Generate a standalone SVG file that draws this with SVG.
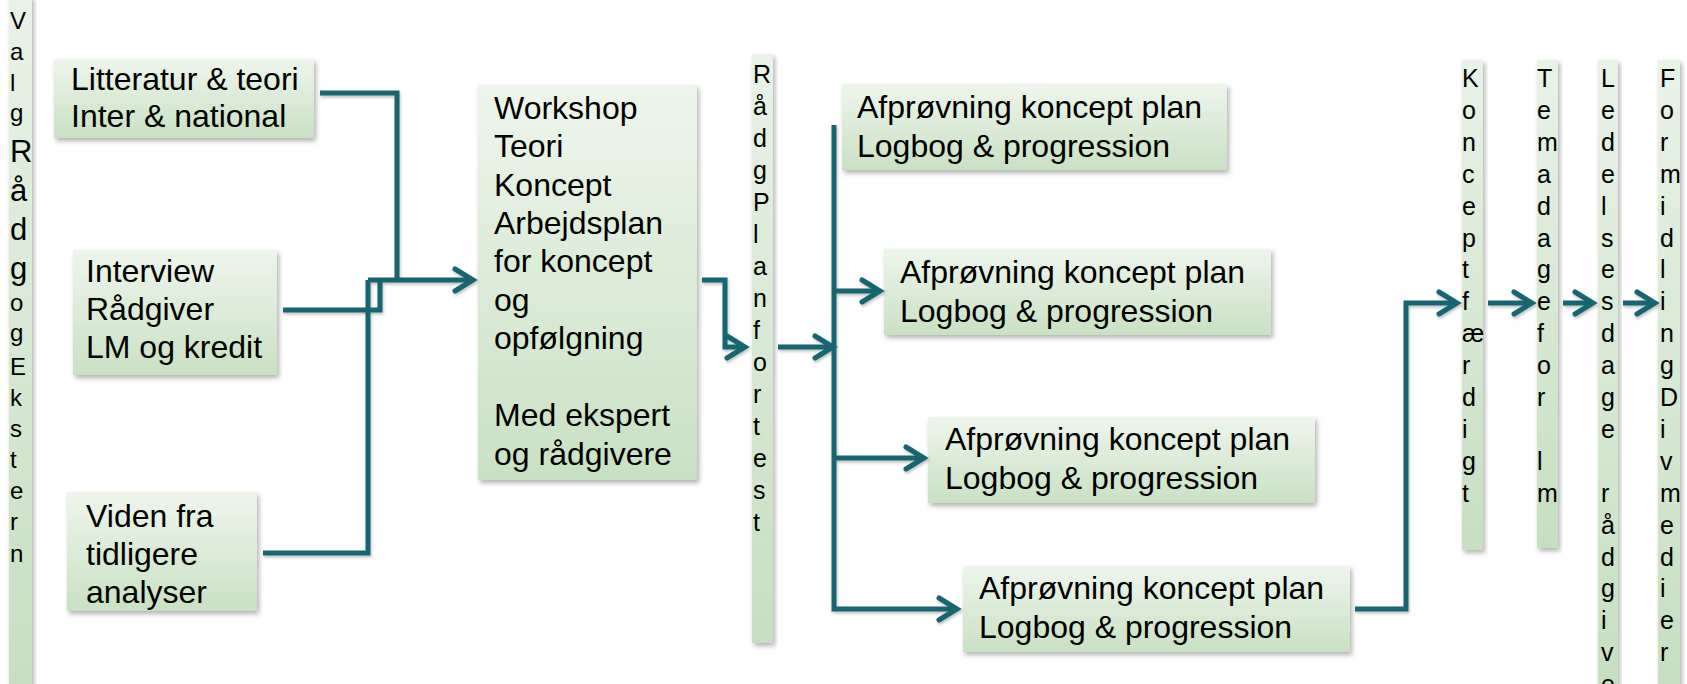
<svg xmlns="http://www.w3.org/2000/svg" width="1687" height="684" viewBox="0 0 1687 684">
<defs>
<linearGradient id="gBox" x1="0" y1="0" x2="0" y2="1">
<stop offset="0" stop-color="#eef5ec"/>
<stop offset="1" stop-color="#c9e1c3"/>
</linearGradient>
<linearGradient id="gBar" x1="0" y1="0" x2="0" y2="1">
<stop offset="0" stop-color="#e9f2e7"/>
<stop offset="1" stop-color="#c6dfc0"/>
</linearGradient>
<filter id="sh" x="-10%" y="-10%" width="130%" height="130%">
<feDropShadow dx="2" dy="3" stdDeviation="2.5" flood-color="#000" flood-opacity="0.3"/>
</filter>
<filter id="lsh" filterUnits="userSpaceOnUse" x="0" y="0" width="1687" height="684">
<feDropShadow dx="1" dy="2" stdDeviation="1.5" flood-color="#000" flood-opacity="0.25"/>
</filter>
<marker id="arr" viewBox="0 0 24 26" refX="21" refY="13" markerWidth="24" markerHeight="26" markerUnits="userSpaceOnUse" orient="auto" overflow="visible">
<path d="M3,2 L21,13 L3,24" fill="none" stroke="#176570" stroke-width="5" stroke-linecap="round" stroke-linejoin="miter"/>
</marker>
</defs>
<style>
.box{fill:url(#gBox);filter:url(#sh)}
.bar{fill:url(#gBar);filter:url(#sh)}
.t{font-family:"Liberation Sans",Arial,sans-serif;font-size:32px;fill:#000}
.v{font-family:"Liberation Sans",Arial,sans-serif;font-size:25px;fill:#000}
.vs{font-family:"Liberation Sans",Arial,sans-serif;font-size:24px;fill:#000}
.vb{font-size:31px}
.c{fill:none;stroke:#176570;stroke-width:5}
</style>
<rect width="1687" height="684" fill="#ffffff"/>

<g id="valg">
<rect class="bar" x="9" y="-4" width="23" height="692"/>
<text class="vs"><tspan x="10" y="29">V</tspan><tspan x="10" y="60">a</tspan><tspan x="10" y="91">l</tspan><tspan x="10" y="121">g</tspan><tspan class="vb" x="10" y="162">R</tspan><tspan class="vb" x="10" y="201">å</tspan><tspan class="vb" x="10" y="240">d</tspan><tspan class="vb" x="10" y="279">g</tspan><tspan x="10" y="311">o</tspan><tspan x="10" y="341">g</tspan><tspan x="10" y="375">E</tspan><tspan x="10" y="406">k</tspan><tspan x="10" y="437">s</tspan><tspan x="10" y="468">t</tspan><tspan x="10" y="499">e</tspan><tspan x="10" y="530">r</tspan><tspan x="10" y="562">n</tspan></text>
</g>

<g id="litteratur">
<rect class="box" x="54" y="59" width="260" height="79"/>
<text class="t"><tspan x="71" y="90">Litteratur &amp; teori</tspan><tspan x="71" y="127">Inter &amp; national</tspan></text>
</g>

<g id="interview">
<rect class="box" x="73" y="250" width="204" height="125"/>
<text class="t"><tspan x="86" y="282">Interview</tspan><tspan x="86" y="320">Rådgiver</tspan><tspan x="86" y="358">LM og kredit</tspan></text>
</g>

<g id="viden">
<rect class="box" x="67" y="492" width="190" height="119"/>
<text class="t"><tspan x="86" y="527">Viden fra</tspan><tspan x="86" y="565">tidligere</tspan><tspan x="86" y="603">analyser</tspan></text>
</g>

<g id="workshop">
<rect class="box" x="478" y="85" width="219" height="395"/>
<text class="t"><tspan x="494" y="119">Workshop</tspan><tspan x="494" y="157">Teori</tspan><tspan x="494" y="196">Koncept</tspan><tspan x="494" y="234">Arbejdsplan</tspan><tspan x="494" y="272">for koncept</tspan><tspan x="494" y="311">og</tspan><tspan x="494" y="349">opfølgning</tspan><tspan x="494" y="426">Med ekspert</tspan><tspan x="494" y="465">og rådgivere</tspan></text>
</g>

<g id="raadplan">
<rect class="bar" x="752" y="54" width="21" height="589"/>
<text class="v"><tspan x="753" y="83">R</tspan><tspan x="753" y="115">å</tspan><tspan x="753" y="147">d</tspan><tspan x="753" y="179">g</tspan><tspan x="753" y="211">P</tspan><tspan x="753" y="243">l</tspan><tspan x="753" y="275">a</tspan><tspan x="753" y="307">n</tspan><tspan x="753" y="339">f</tspan><tspan x="753" y="371">o</tspan><tspan x="753" y="403">r</tspan><tspan x="753" y="435">t</tspan><tspan x="753" y="467">e</tspan><tspan x="753" y="499">s</tspan><tspan x="753" y="531">t</tspan></text>
</g>

<g id="afproevning1">
<rect class="box" x="842" y="84" width="385" height="86"/>
<text class="t"><tspan x="857" y="118">Afprøvning koncept plan</tspan><tspan x="857" y="157">Logbog &amp; progression</tspan></text>
</g>
<g id="afproevning2">
<rect class="box" x="884" y="249" width="387" height="86"/>
<text class="t"><tspan x="900" y="283">Afprøvning koncept plan</tspan><tspan x="900" y="322">Logbog &amp; progression</tspan></text>
</g>
<g id="afproevning3">
<rect class="box" x="928" y="417" width="387" height="86"/>
<text class="t"><tspan x="945" y="450">Afprøvning koncept plan</tspan><tspan x="945" y="489">Logbog &amp; progression</tspan></text>
</g>
<g id="afproevning4">
<rect class="box" x="963" y="566" width="387" height="86"/>
<text class="t"><tspan x="979" y="599">Afprøvning koncept plan</tspan><tspan x="979" y="638">Logbog &amp; progression</tspan></text>
</g>

<g id="koncept">
<rect class="bar" x="1462" y="60" width="21" height="490"/>
<text class="v"><tspan x="1462" y="87">K</tspan><tspan x="1462" y="119">o</tspan><tspan x="1462" y="151">n</tspan><tspan x="1462" y="183">c</tspan><tspan x="1462" y="215">e</tspan><tspan x="1462" y="247">p</tspan><tspan x="1462" y="278">t</tspan><tspan x="1462" y="310">f</tspan><tspan x="1462" y="342">æ</tspan><tspan x="1462" y="374">r</tspan><tspan x="1462" y="406">d</tspan><tspan x="1462" y="438">i</tspan><tspan x="1462" y="470">g</tspan><tspan x="1462" y="502">t</tspan></text>
</g>

<g id="temadage">
<rect class="bar" x="1537" y="60" width="21" height="488"/>
<text class="v"><tspan x="1537" y="87">T</tspan><tspan x="1537" y="119">e</tspan><tspan x="1537" y="151">m</tspan><tspan x="1537" y="183">a</tspan><tspan x="1537" y="215">d</tspan><tspan x="1537" y="247">a</tspan><tspan x="1537" y="278">g</tspan><tspan x="1537" y="310">e</tspan><tspan x="1537" y="342">f</tspan><tspan x="1537" y="374">o</tspan><tspan x="1537" y="406">r</tspan><tspan x="1537" y="470">l</tspan><tspan x="1537" y="502">m</tspan></text>
</g>

<g id="ledelsesdage">
<rect class="bar" x="1598" y="60" width="20" height="630"/>
<text class="v"><tspan x="1601" y="87">L</tspan><tspan x="1601" y="119">e</tspan><tspan x="1601" y="151">d</tspan><tspan x="1601" y="183">e</tspan><tspan x="1601" y="215">l</tspan><tspan x="1601" y="247">s</tspan><tspan x="1601" y="278">e</tspan><tspan x="1601" y="310">s</tspan><tspan x="1601" y="342">d</tspan><tspan x="1601" y="374">a</tspan><tspan x="1601" y="406">g</tspan><tspan x="1601" y="438">e</tspan><tspan x="1601" y="502">r</tspan><tspan x="1601" y="534">å</tspan><tspan x="1601" y="566">d</tspan><tspan x="1601" y="597">g</tspan><tspan x="1601" y="629">i</tspan><tspan x="1601" y="661">v</tspan><tspan x="1601" y="693">e</tspan></text>
</g>

<g id="formidling">
<rect class="bar" x="1658" y="60" width="22" height="630"/>
<text class="v"><tspan x="1660" y="87">F</tspan><tspan x="1660" y="119">o</tspan><tspan x="1660" y="151">r</tspan><tspan x="1660" y="183">m</tspan><tspan x="1660" y="215">i</tspan><tspan x="1660" y="247">d</tspan><tspan x="1660" y="278">l</tspan><tspan x="1660" y="310">i</tspan><tspan x="1660" y="342">n</tspan><tspan x="1660" y="374">g</tspan><tspan x="1660" y="406">D</tspan><tspan x="1660" y="438">i</tspan><tspan x="1660" y="470">v</tspan><tspan x="1660" y="502">m</tspan><tspan x="1660" y="534">e</tspan><tspan x="1660" y="566">d</tspan><tspan x="1660" y="597">i</tspan><tspan x="1660" y="629">e</tspan><tspan x="1660" y="661">r</tspan></text>
</g>

<g id="connectors" filter="url(#lsh)">
<path class="c" d="M320,93 H397 V280"/>
<path class="c" d="M283,310 H380 V280"/>
<path class="c" d="M263,553 H368 V280"/>
<path class="c" d="M368,280 H473" marker-end="url(#arr)"/>
<path class="c" d="M702,280 H725 V347 H745" marker-end="url(#arr)"/>
<path class="c" d="M778,347 H833" marker-end="url(#arr)"/>
<path class="c" d="M834,125 V609 H957" marker-end="url(#arr)"/>
<path class="c" d="M834,291 H880" marker-end="url(#arr)"/>
<path class="c" d="M834,458 H924" marker-end="url(#arr)"/>
<path class="c" d="M1355,609 H1406 V303 H1457" marker-end="url(#arr)"/>
<path class="c" d="M1488,303 H1532" marker-end="url(#arr)"/>
<path class="c" d="M1563,303 H1593" marker-end="url(#arr)"/>
<path class="c" d="M1623,303 H1655" marker-end="url(#arr)"/>
</g>
</svg>
